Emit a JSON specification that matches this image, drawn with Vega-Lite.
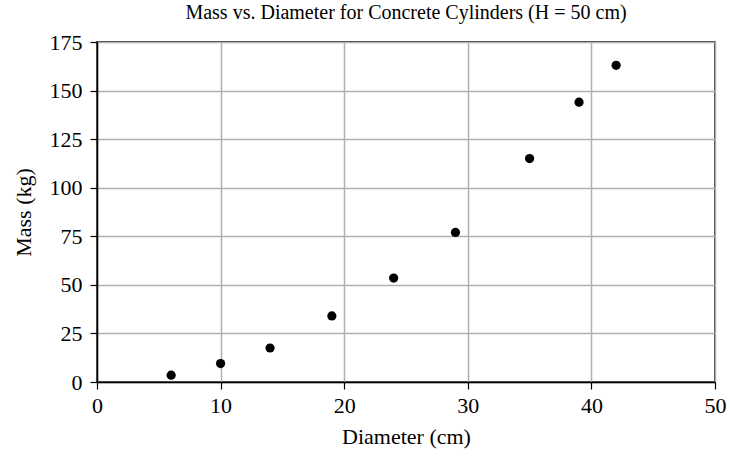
{
  "$schema": "https://vega.github.io/schema/vega-lite/v6.json",
  "width": 618,
  "height": 340,
  "autosize": {"type": "none"},
  "padding": {"left": 97, "top": 42, "right": 15, "bottom": 74},
  "background": "white",
  "title": {
    "text": "Mass vs. Diameter for Concrete Cylinders (H = 50 cm)",
    "font": "Liberation Serif",
    "fontSize": 20,
    "fontWeight": "normal",
    "color": "black",
    "offset": 8
  },
  "config": {
    "view": {"stroke": "black", "strokeWidth": 1.5},
    "axis": {
      "labelFont": "Liberation Serif",
      "titleFont": "Liberation Serif",
      "labelFontSize": 22,
      "titleFontSize": 22,
      "titleFontWeight": "normal",
      "labelColor": "black",
      "titleColor": "black",
      "domainColor": "black",
      "domainWidth": 1.5,
      "tickColor": "black",
      "tickSize": 7,
      "tickWidth": 1.2,
      "gridColor": "#b0b0b0",
      "gridWidth": 1.5,
      "gridOpacity": 1
    }
  },
  "data": {
    "values": [
      {"d": 6, "m": 3.5},
      {"d": 10, "m": 9.5},
      {"d": 14, "m": 17.5},
      {"d": 19, "m": 34},
      {"d": 24, "m": 53.5},
      {"d": 29, "m": 77},
      {"d": 35, "m": 115},
      {"d": 39, "m": 144},
      {"d": 42, "m": 163}
    ]
  },
  "mark": {"type": "point", "filled": true, "color": "black", "opacity": 1, "size": 85},
  "encoding": {
    "x": {
      "field": "d",
      "type": "quantitative",
      "scale": {"domain": [0, 50], "nice": false},
      "axis": {"title": "Diameter (cm)", "values": [0, 10, 20, 30, 40, 50], "labelPadding": 6, "titlePadding": 10, "labelFlush": false}
    },
    "y": {
      "field": "m",
      "type": "quantitative",
      "scale": {"domain": [0, 175], "nice": false},
      "axis": {"title": "Mass (kg)", "values": [0, 25, 50, 75, 100, 125, 150, 175], "labelPadding": 8, "titlePadding": 14, "labelFlush": false}
    }
  }
}
